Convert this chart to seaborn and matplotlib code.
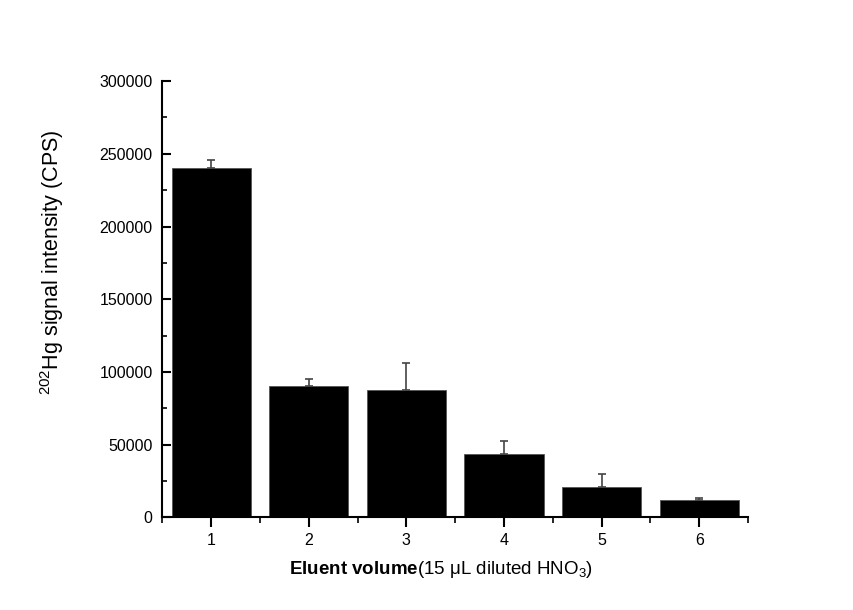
import matplotlib
matplotlib.use("Agg")
import matplotlib.pyplot as plt
import seaborn as sns
import numpy as np
import pandas as pd
from matplotlib.ticker import MultipleLocator, FixedLocator

# data
volume = ["1", "2", "3", "4", "5", "6"]
intensity = [240000, 90500, 87500, 43800, 20700, 12000]
err_up = [6000, 4800, 18500, 8800, 9200, 1400]

df = pd.DataFrame({"volume": volume, "intensity": intensity})

sns.set_style("ticks")
plt.rcParams["font.family"] = ["Liberation Sans", "DejaVu Sans"]
plt.rcParams["mathtext.fontset"] = "custom"
plt.rcParams["mathtext.rm"] = "Liberation Sans"
plt.rcParams["mathtext.bf"] = "Liberation Sans:bold"
plt.rcParams["mathtext.it"] = "Liberation Sans:italic"
plt.rcParams["text.color"] = "black"
plt.rcParams["axes.labelcolor"] = "black"
plt.rcParams["xtick.color"] = "black"
plt.rcParams["ytick.color"] = "black"
plt.rcParams["axes.edgecolor"] = "black"

fig = plt.figure(figsize=(8.54, 6.1), dpi=100)
ax = fig.add_axes([0.19, 0.152, 0.686, 0.715])

sns.barplot(data=df, x="volume", y="intensity", color="black", width=0.81,
            saturation=1, errorbar=None, ax=ax)
for p in ax.patches:
    p.set_edgecolor("#555555")
    p.set_linewidth(0.6)

xpos = np.arange(len(volume))
ax.errorbar(xpos, intensity, yerr=[np.zeros(len(err_up)), err_up], fmt="none",
            ecolor="#444444", elinewidth=1.2, capsize=3, capthick=1.2)

ax.set_xlim(-0.5, 5.5)
ax.set_ylim(0, 300000)
ax.yaxis.set_major_locator(MultipleLocator(50000))
ax.yaxis.set_minor_locator(MultipleLocator(25000))
ax.xaxis.set_minor_locator(FixedLocator(np.arange(-0.5, 6, 1)))

sns.despine(ax=ax)
for s in ["left", "bottom"]:
    ax.spines[s].set_linewidth(1.5)
ax.tick_params(axis="y", which="major", length=6.5, width=1.5, direction="in",
               labelsize=11.5, pad=7)
ax.tick_params(axis="y", which="minor", length=3.5, width=1.2, direction="in")
ax.tick_params(axis="x", which="major", length=7, width=1.5, direction="out",
               labelsize=11.5, pad=4)
ax.tick_params(axis="x", which="minor", length=4, width=1.2, direction="out")

ax.set_xlabel(r"$\bf{Eluent\ volume}$(15 μL diluted HNO$_3$)", fontsize=13.5)
ax.xaxis.set_label_coords(0.476, -0.095)
ax.set_ylabel(r"$^{202}$Hg signal intensity (CPS)", fontsize=15.5)
ax.yaxis.set_label_coords(-0.164, 0.585)

fig.savefig("out.png", dpi=100)
